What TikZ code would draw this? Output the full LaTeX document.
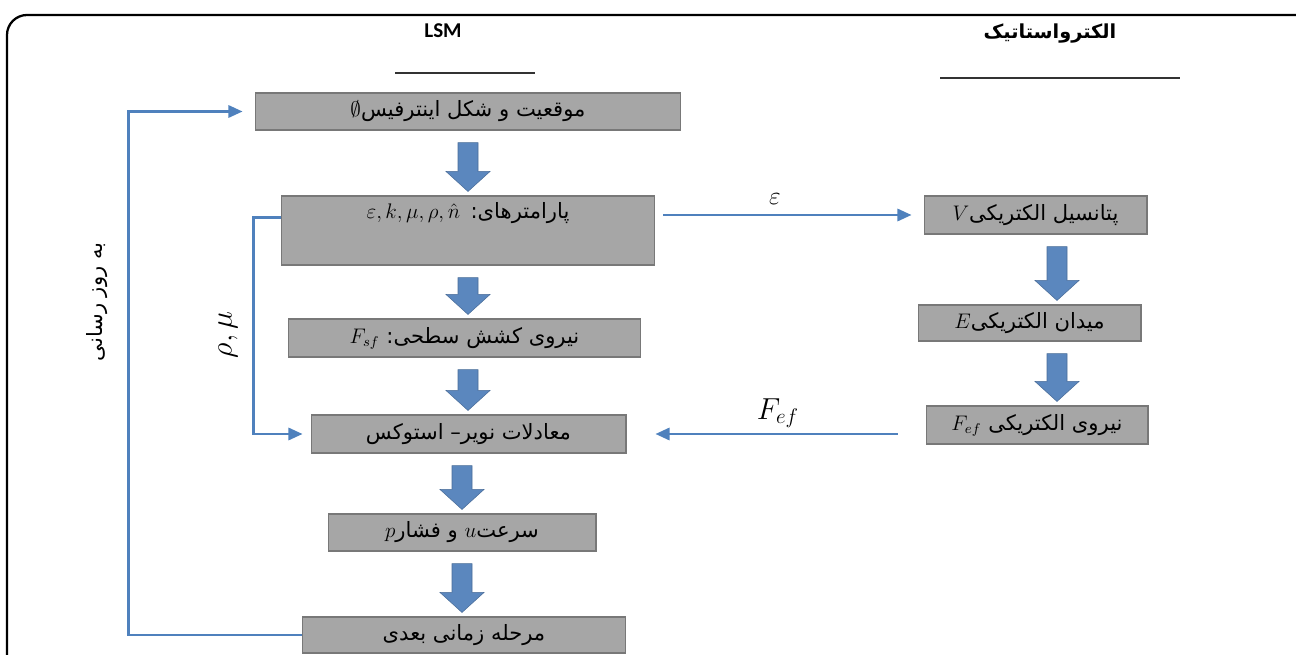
\documentclass[tikz,border=0pt]{standalone}
\usepackage{fontspec}
\setsansfont{Carlito}
\newfontfamily\arabicfont[Script=Arabic]{DejaVu Sans}
\TeXXeTstate=1
\usetikzlibrary{calc,arrows.meta}
\definecolor{boxgray}{RGB}{166,166,166}
\definecolor{boxedge}{RGB}{120,120,120}
\definecolor{flowblue}{RGB}{79,129,189}
\definecolor{blockblue}{RGB}{91,135,190}

\begin{document}
\begin{tikzpicture}[x=0.02cm, y=-0.02cm,
  procbox/.style={draw=boxedge, fill=boxgray, line width=0.6pt, inner sep=2pt,
    minimum height=0.76cm, font=\fontsize{12}{14}\selectfont},
  flowarrow/.style={draw=flowblue, line width=1.3pt, -{Triangle[length=8pt,width=7pt]}},
  blockarrow/.style={fill=blockblue, draw=blockblue!80!black, line width=0.3pt}]
  \useasboundingbox (0,0) rectangle (1296,655);
  \clip (0,0) rectangle (1296,655);
  \draw[line width=1.3pt, rounded corners=0.4cm] (7,15) rectangle (1320,680);

  % column headers
  \node[font=\sffamily\bfseries\large] (lsm) at (443,31) {LSM};
  \node[font=\arabicfont\bfseries\fontsize{11}{13}\selectfont] (elec) at (1050,34) {\beginR الکترواستاتیک\endR};
  \draw[line width=1pt, black!80] (395,73) -- (535,73);
  \draw[line width=1pt, black!80] (940,78) -- (1180,78);

  % LSM column
  \node[procbox, minimum width=8.52cm, minimum height=0.74cm] (interface) at (468,111.5)
    {$\emptyset$\arabicfont\beginR موقعیت و شکل اینترفیس\endR};
  \node[procbox, minimum width=7.48cm, minimum height=1.38cm, text depth=0.8cm] (params) at (468,230.5)
    {$\varepsilon,k,\mu,\rho,\hat{n}$\enspace\arabicfont\beginR پارامترهای:\endR};
  \node[procbox, minimum width=7.06cm] (surf) at (464.5,338)
    {$F_{sf}$\ \arabicfont\beginR نیروی کشش سطحی:\endR};
  \node[procbox, minimum width=6.3cm] (ns) at (468.5,434)
    {\arabicfont\beginR معادلات نویر– استوکس\endR};
  \node[procbox, minimum width=5.36cm, minimum height=0.74cm] (vel) at (462,532.5)
    {$p$\arabicfont\beginR و فشار\endR\ $u$\arabicfont\beginR سرعت\endR};
  \node[procbox, minimum width=6.48cm, minimum height=0.72cm] (next) at (464,635)
    {\arabicfont\beginR مرحله زمانی بعدی\endR};

  % electrostatic column
  \node[procbox, minimum width=4.46cm] (pot) at (1035.5,215)
    {$V$\arabicfont\beginR پتانسیل الکتریکی\endR};
  \node[procbox, minimum width=4.46cm, minimum height=0.72cm] (field) at (1029.5,323)
    {$E$\arabicfont\beginR میدان الکتریکی\endR};
  \node[procbox, minimum width=4.44cm] (force) at (1037,425)
    {$F_{ef}$\ \arabicfont\beginR نیروی الکتریکی\endR};

  % block arrows
  \foreach \src/\dst/\dx in {interface/params/0, params/surf/0, surf/ns/3.5, ns/vel/-6.5,
      vel/next/0, pot/field/21.5, field/force/27.5}
    \fill[blockarrow] let \p1=($(\src.south)+(\dx,12)$), \p2=($(\dst.north)+(\dx,-4)$) in
      (\x1-0.2cm,\y1) -- (\x1+0.2cm,\y1) -- (\x1+0.2cm,\y2+0.4cm) -- (\x1+0.44cm,\y2+0.4cm)
      -- (\x1,\y2) -- (\x1-0.44cm,\y2+0.4cm) -- (\x1-0.2cm,\y2+0.4cm) -- cycle;

  % thin connectors
  \draw[flowarrow] (next.west) -- ++(-173,0) |- ($(interface.west)+(-12,0)$);
  \draw[flowarrow] ($(params.north west)+(0,22)$) -- ++(-27,0) |- ($(ns.west)+(-8,0)$);
  \draw[flowarrow] ($(params.east |- pot.west)+(8,0)$) -- ($(pot.west)+(-12,0)$);
  \draw[flowarrow] ($(ns.east -| force.west)+(-28,0)$) -- ($(ns.east)+(29,0)$);

  % connector labels
  \node[font=\Large] (epslbl) at (775,199) {$\varepsilon$};
  \node[font=\LARGE] (feflbl) at (778,413) {$F_{ef}$};
  \node[rotate=90, font=\LARGE] (rhomu) at (228,335) {$\rho,\mu$};
  \node[rotate=90, font=\arabicfont\fontsize{12}{14}\selectfont] (update) at (97,302)
    {\beginR به روز رسانی\endR};
\end{tikzpicture}
\end{document}
